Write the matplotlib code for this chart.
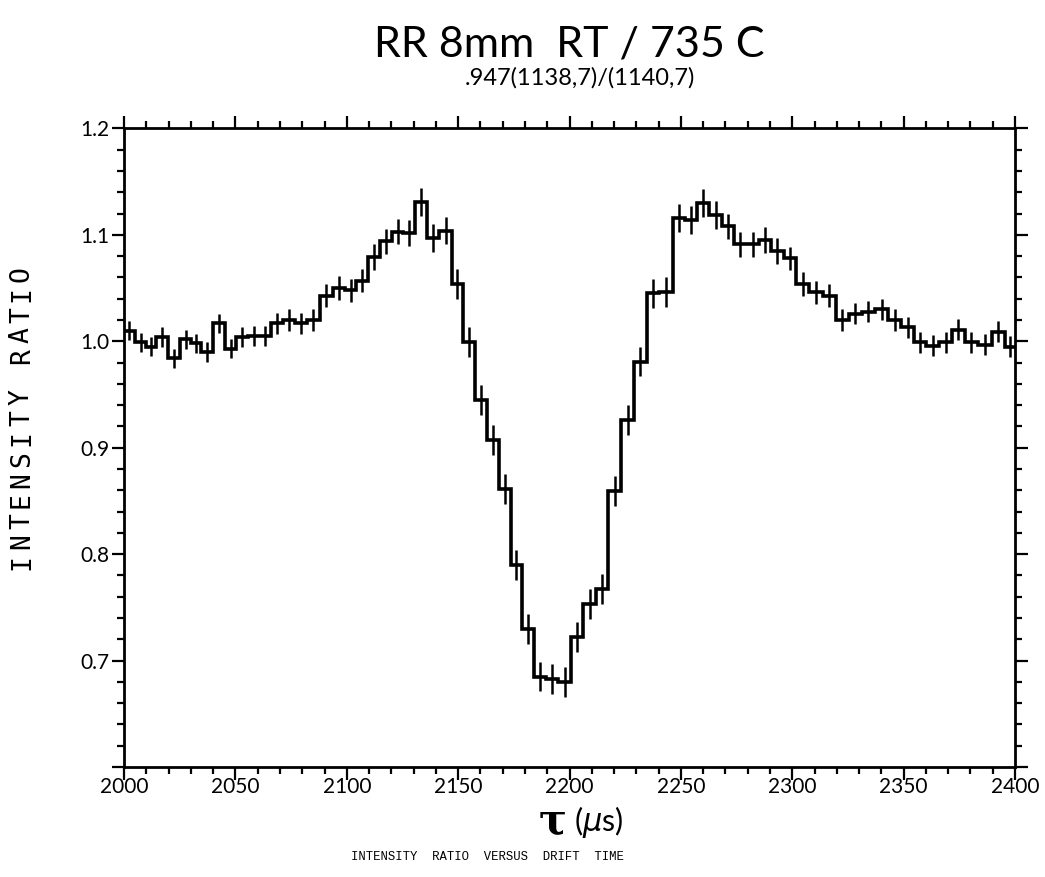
import numpy as np
import matplotlib
matplotlib.use("Agg")
import matplotlib.pyplot as plt
from matplotlib.ticker import MultipleLocator, FixedLocator, FixedFormatter

# ----------------------------
# data
# ----------------------------
# bin edges of drift time tau (us)
tau_edges = [2000.0, 2004.8, 2010.0, 2014.5, 2019.8, 2025.0, 2030.2, 2034.7, 2040.0,
             2045.2, 2050.4, 2055.7, 2060.9, 2066.1, 2071.4, 2076.6, 2082.2, 2087.8,
             2093.7, 2099.2, 2104.2, 2109.7, 2114.9, 2120.2, 2125.4, 2130.6, 2136.2,
             2141.6, 2147.1, 2152.3, 2157.6, 2162.8, 2168.4, 2173.6, 2178.5, 2184.2,
             2189.6, 2195.0, 2200.5, 2206.2, 2211.9, 2217.4, 2223.1, 2229.0, 2234.7,
             2240.3, 2246.3, 2251.9, 2257.3, 2262.7, 2268.5, 2273.9, 2279.5, 2285.1,
             2290.5, 2296.1, 2301.9, 2307.5, 2313.8, 2319.6, 2325.5, 2331.1, 2337.2,
             2343.0, 2348.8, 2354.7, 2360.2, 2366.0, 2371.7, 2377.4, 2383.4, 2389.5,
             2395.5, 2400.0]

# intensity ratio per bin
ratio = [1.010, 0.999, 0.995, 1.004, 0.984, 1.002, 0.998, 0.990, 1.017, 0.993,
         1.004, 1.005, 1.005, 1.017, 1.020, 1.017, 1.020, 1.043, 1.050, 1.048,
         1.057, 1.079, 1.094, 1.103, 1.102, 1.131, 1.097, 1.104, 1.054, 0.999,
         0.945, 0.907, 0.861, 0.790, 0.730, 0.685, 0.683, 0.680, 0.722, 0.753,
         0.767, 0.859, 0.926, 0.981, 1.045, 1.046, 1.116, 1.114, 1.130, 1.119,
         1.108, 1.091, 1.091, 1.095, 1.085, 1.078, 1.054, 1.046, 1.043, 1.020,
         1.026, 1.028, 1.030, 1.020, 1.013, 0.999, 0.996, 0.999, 1.011, 0.999,
         0.997, 1.009, 0.995]

# error bar half lengths
err = [0.009, 0.009, 0.009, 0.009, 0.009, 0.009, 0.009, 0.009, 0.009, 0.009,
       0.009, 0.009, 0.009, 0.010, 0.010, 0.010, 0.010, 0.011, 0.011, 0.011,
       0.011, 0.012, 0.012, 0.012, 0.012, 0.013, 0.013, 0.013, 0.014, 0.014,
       0.014, 0.014, 0.014, 0.014, 0.014, 0.014, 0.014, 0.014, 0.014, 0.014,
       0.014, 0.014, 0.014, 0.014, 0.014, 0.014, 0.013, 0.013, 0.013, 0.013,
       0.012, 0.012, 0.012, 0.012, 0.012, 0.011, 0.011, 0.011, 0.011, 0.010,
       0.010, 0.010, 0.010, 0.010, 0.010, 0.010, 0.010, 0.010, 0.010, 0.010,
       0.010, 0.010, 0.010]

xticks = [2000, 2050, 2100, 2150, 2200, 2250, 2300, 2350, 2400]
yticks = [0.6, 0.7, 0.8, 0.9, 1.0, 1.1, 1.2]
ylabels = ["", "0.7", "0.8", "0.9", "1.0", "1.1", "1.2"]

edges = np.array(tau_edges)
centers = (edges[:-1] + edges[1:]) / 2

fig = plt.figure(figsize=(10.45, 8.77), dpi=100)
ax = fig.add_axes([0.1187, 0.1254, 0.8526, 0.7281])

ax.stairs(ratio, edges, color="black", linewidth=2.6, baseline=None)
ax.errorbar(centers, ratio, yerr=err, fmt="none", ecolor="black", elinewidth=1.8, capsize=0)

ax.set_xlim(2000, 2400)
ax.set_ylim(0.6, 1.2)

ax.xaxis.set_major_locator(FixedLocator(xticks))
ax.xaxis.set_minor_locator(MultipleLocator(10))
ax.yaxis.set_major_locator(FixedLocator(yticks))
ax.yaxis.set_major_formatter(FixedFormatter(ylabels))
ax.yaxis.set_minor_locator(MultipleLocator(0.02))

ax.tick_params(which="both", direction="out", top=True, right=True, width=1.6)
ax.tick_params(which="major", length=9)
ax.tick_params(which="minor", length=5)
ax.tick_params(axis="x", labelsize=15, pad=-2)
ax.tick_params(axis="y", labelsize=15, pad=1.5)
for lab in ax.get_xticklabels() + ax.get_yticklabels():
    lab.set_family("Lato")
for sp in ax.spines.values():
    sp.set_linewidth(2)

fig.text(0.5445, 0.949, "RR 8mm  RT / 735 C", ha="center", va="center",
         fontsize=31, family="Lato")
fig.text(0.555, 0.911, ".947(1138,7)/(1140,7)", ha="center", va="center",
         fontsize=17, family="Lato")

# y label, typewriter style with wide letter spacing
ylab = "INTENSITY RATIO"
for i, ch in enumerate(ylab):
    fig.text(0.021, (877 - 562 + i * 20.6) / 877, ch, rotation=90, ha="center",
             va="center", fontsize=19, family="DejaVu Sans Mono")

fig.text(0.529, 0.063, "τ", ha="center", va="center", fontsize=30,
         fontweight="bold", family="DejaVu Serif")
fig.text(0.573, 0.063, r"($\mu$s)", ha="center", va="center", fontsize=22, family="Lato")
fig.text(0.466, 0.023, "INTENSITY  RATIO  VERSUS  DRIFT  TIME", ha="center", va="center",
         fontsize=8.8, family="Liberation Mono")

fig.savefig("out.png", dpi=100)
